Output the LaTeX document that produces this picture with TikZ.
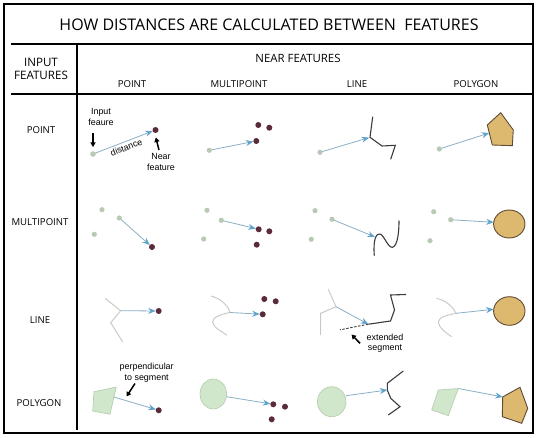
\documentclass[tikz,border=0pt]{standalone}
\usepackage{fontspec}
\setmainfont{Open Sans}
\newfontfamily\notefont{Liberation Sans}
\usetikzlibrary{arrows.meta}
\definecolor{InGreen}{HTML}{B9C9B3}
\definecolor{NearDot}{HTML}{5B2B3B}
\definecolor{DistBlue}{HTML}{8AAFC4}
\definecolor{TipBlue}{HTML}{5FA2CB}
\definecolor{LineGray}{HTML}{C6CCC4}
\definecolor{NearLine}{HTML}{3B3B3B}
\definecolor{PolyTan}{HTML}{DDB970}
\definecolor{PolyEdge}{HTML}{5E4B33}
\definecolor{PolyGreen}{HTML}{D0E7CB}
\definecolor{PolyGreenEdge}{HTML}{B3CBAC}

\begin{document}
\begin{tikzpicture}[x=1pt, y=-1pt,
    indot/.style={fill=InGreen},
    neardot/.style={fill=NearDot},
    distarrow/.style={draw=DistBlue, line width=0.8pt, -{Stealth[length=7.5pt, width=6pt, inset=2.5pt, color=TipBlue]}},
    notearrow/.style={line width=1.5pt, -{Triangle[length=4.5pt, width=5pt]}},
    notetext/.style={font=\notefont\fontsize{8.9}{10.5}\selectfont, align=center, inner sep=0pt},
    inline/.style={draw=LineGray, line width=1pt},
    nearline/.style={draw=NearLine, line width=1.1pt},
    ingon/.style={fill=PolyGreen, draw=PolyGreenEdge, line width=0.6pt},
    neargon/.style={fill=PolyTan, draw=PolyEdge, line width=0.9pt},
    head/.style={font=\fontsize{9.6}{11}\selectfont},
    gridline/.style={line width=1.3pt}]
\useasboundingbox (0,0) rectangle (540,438);

% frame and table rules
\draw[line width=2.6pt] (4,4) rectangle (533,433);
\draw[gridline] (11,44) -- (533,44);
\draw[gridline] (11,94) -- (533,94);
\draw[gridline] (77,44) -- (77,430);

\node[font=\fontsize{16}{18}\selectfont] (title) at (269,25) {HOW DISTANCES ARE CALCULATED BETWEEN\ \ FEATURES};
\node[font=\fontsize{11.6}{12.5}\selectfont, align=center] (inhead) at (41,69) {INPUT\\FEATURES};
\node[font=\fontsize{11.4}{12}\selectfont] (nearhead) at (298,58) {NEAR FEATURES};
\node[head] (colpoint) at (132,84) {POINT};
\node[head] (colmulti) at (239,84) {MULTIPOINT};
\node[head] (colline) at (357,84) {LINE};
\node[head] (colgon) at (476,84) {POLYGON};
\node[head] (rowpoint) at (41,130) {POINT};
\node[head] (rowmulti) at (40,222) {MULTIPOINT};
\node[head] (rowline) at (40,320) {LINE};
\node[head] (rowgon) at (39,403) {POLYGON};

% row 1: point input
\coordinate (aIn) at (93,154);
\coordinate (aNear) at (155.5,130);
\draw[distarrow, shorten >=3pt] (aIn) -- (aNear) node[midway, below=2pt, sloped, notetext] (distlbl) {distance};
\fill[indot] (aIn) circle (2.8);
\fill[neardot] (aNear) circle (3);
\node[notetext] (inlbl) at (101,117) {Input\\feaure};
\coordinate (inArrA) at (93,133);
\coordinate (inArrB) at (93,147);
\draw[notearrow] (inArrA) -- (inArrB);
\node[notetext] (nearlbl) at (161,162) {Near\\feature};
\coordinate (nearArrA) at (159,150);
\coordinate (nearArrB) at (155.8,137.5);
\draw[notearrow] (nearArrA) -- (nearArrB);

\coordinate (bIn) at (209.3,150.3);
\coordinate (bNa) at (258.3,125);
\coordinate (bNb) at (269.3,127.7);
\coordinate (bNc) at (256.3,141);
\draw[distarrow, shorten >=3pt] (bIn) -- (bNc);
\fill[indot] (bIn) circle (2.6);
\foreach \p in {bNa,bNb,bNc} \fill[neardot] (\p) circle (3);

\coordinate (cIn) at (320,152.3);
\coordinate (cHit) at (370,137.3);
\draw[nearline] (372.7,116.7) -- (cHit) -- (382,146) -- (395.3,145.3) -- (390.7,159.3);
\draw[distarrow, shorten >=1pt] (cIn) -- (cHit);
\fill[indot] (cIn) circle (2.6);

\coordinate (dIn) at (439.3,149);
\coordinate (dHit) at (489.2,133);
\draw[neargon] (500.7,112.7) -- (513.3,130) -- (512.3,145.7) -- (492.3,145) -- (487.3,125) -- cycle;
\draw[distarrow] (dIn) -- (dHit);
\fill[indot] (dIn) circle (2.6);

% row 2: multipoint input
\coordinate (eIa) at (102,209.7);
\coordinate (eIb) at (119.3,218);
\coordinate (eIc) at (94.3,234.3);
\coordinate (eNear) at (152,247);
\draw[distarrow, shorten >=3pt] (eIb) -- (eNear);
\foreach \p in {eIa,eIb,eIc} \fill[indot] (\p) circle (2.6);
\fill[neardot] (eNear) circle (3);

\coordinate (fIa) at (207,210.3);
\coordinate (fIb) at (221.3,220.3);
\coordinate (fIc) at (203.7,239);
\coordinate (fNa) at (258.7,229.3);
\coordinate (fNb) at (269.3,231.3);
\coordinate (fNc) at (256.7,244.7);
\draw[distarrow, shorten >=3pt] (fIb) -- (fNa);
\foreach \p in {fIa,fIb,fIc} \fill[indot] (\p) circle (2.6);
\foreach \p in {fNa,fNb,fNc} \fill[neardot] (\p) circle (3);

\coordinate (gIa) at (315,210.7);
\coordinate (gIb) at (332,219.3);
\coordinate (gIc) at (311.3,239.3);
\coordinate (gHit) at (375,237);
\draw[nearline] (374.3,255.7) .. controls (373,240) and (376,233) .. (380,234)
    .. controls (384,235) and (388,248) .. (392.5,247.3)
    .. controls (398,246) and (399,230) .. (399,220.7);
\draw[distarrow] (gIb) -- (gHit);
\foreach \p in {gIa,gIb,gIc} \fill[indot] (\p) circle (2.6);

\coordinate (hIa) at (433.7,211.7);
\coordinate (hIb) at (450.7,219.7);
\coordinate (hIc) at (430,240.7);
\coordinate (hHit) at (493.8,222.3);
\draw[neargon] (509.3,224) ellipse (15.7 and 14);
\draw[distarrow] (hIb) -- (hHit);
\foreach \p in {hIa,hIb,hIc} \fill[indot] (\p) circle (2.6);

% row 3: line input
\coordinate (iFork) at (120.7,310.7);
\coordinate (iNear) at (158.7,311);
\draw[inline] (105,298.3) -- (iFork) -- (110.7,322.7) -- (122.7,342);
\draw[distarrow, shorten >=3pt] (iFork) -- (iNear);
\fill[neardot] (iNear) circle (3);

\coordinate (jTip) at (230,312.5);
\coordinate (jNa) at (264.3,299);
\coordinate (jNb) at (275.7,301.3);
\coordinate (jNc) at (262.7,314.3);
\draw[inline] (211,296) .. controls (222,299) and (228,306) .. (jTip)
    .. controls (222,314) and (212.5,317) .. (212.5,322)
    .. controls (213,327) and (222,332) .. (227,335);
\draw[distarrow, shorten >=3pt] (jTip) -- (jNc);
\foreach \p in {jNa,jNb,jNc} \fill[neardot] (\p) circle (3);

\coordinate (kFork) at (336,306.7);
\coordinate (kHit) at (368.3,324.2);
\coordinate (kExt) at (340,329.8);
\draw[inline] (328.3,289.3) -- (kFork) -- (320.7,313.3) -- (320.7,335);
\draw[nearline] (406,294.5) -- (390.5,295) -- (394.5,310) -- (390.5,321) -- (kHit);
\draw[nearline, dashed, dash pattern=on 2.5pt off 1.5pt, line width=0.9pt] (kHit) -- (kExt);
\draw[distarrow] (kFork) -- (kHit);
\node[notetext] (extlbl) at (385,343) {extended\\segment};
\coordinate (extArrA) at (360,343.3);
\coordinate (extArrB) at (351.5,334.5);
\draw[notearrow] (extArrA) -- (extArrB);

\coordinate (lTip) at (456,313.3);
\coordinate (lHit) at (493.6,309.3);
\draw[inline] (436.7,298.3) .. controls (447,301) and (453,307) .. (lTip)
    .. controls (448,315) and (438.3,317) .. (438.3,322)
    .. controls (438.3,327) and (446,333) .. (451.7,336.7);
\draw[neargon] (509.3,311) ellipse (15.7 and 14.3);
\draw[distarrow] (lTip) -- (lHit);

% row 4: polygon input
\coordinate (mEdge) at (113.8,397);
\coordinate (mNear) at (158.7,410.3);
\draw[ingon] (94,391.7) -- (116.3,387) -- (110,414.3) -- (92.7,411) -- cycle;
\draw[distarrow, shorten >=3pt] (mEdge) -- (mNear);
\fill[neardot] (mNear) circle (3);
\node[notetext] (perplbl) at (146.7,372.5) {perpendicular\\to segment};
\coordinate (perpArrA) at (135,383.5);
\coordinate (perpArrB) at (126.5,396.5);
\draw[notearrow] (perpArrA) -- (perpArrB);

\coordinate (nEdge) at (226.6,396.7);
\coordinate (nNa) at (273.3,404.3);
\coordinate (nNb) at (285,406.7);
\coordinate (nNc) at (271.7,419.3);
\draw[ingon] (213.3,394) ellipse (13.3 and 15);
\draw[distarrow, shorten >=3pt] (nEdge) -- (nNa);
\foreach \p in {nNa,nNb,nNc} \fill[neardot] (\p) circle (3);

\coordinate (oEdge) at (346,395.7);
\coordinate (oHit) at (387.3,390);
\draw[ingon] (331.7,401.7) ellipse (14.3 and 15);
\draw[nearline] (403.3,371) -- (387.3,383.3) -- (oHit) -- (390.7,398.3) -- (400,406.7) -- (388.3,415);
\draw[distarrow] (oEdge) -- (oHit);

\coordinate (pCorner) at (458.3,388.5);
\coordinate (pHit) at (502.7,396.9);
\draw[ingon] (438.3,390) -- (pCorner) -- (448.3,415.7) -- (431.7,410) -- cycle;
\draw[neargon] (pHit) -- (520,387.3) -- (527.7,408.3) -- (521.7,423.3) -- (502.3,416.7) -- cycle;
\draw[distarrow] (pCorner) -- (pHit);
\end{tikzpicture}
\end{document}
